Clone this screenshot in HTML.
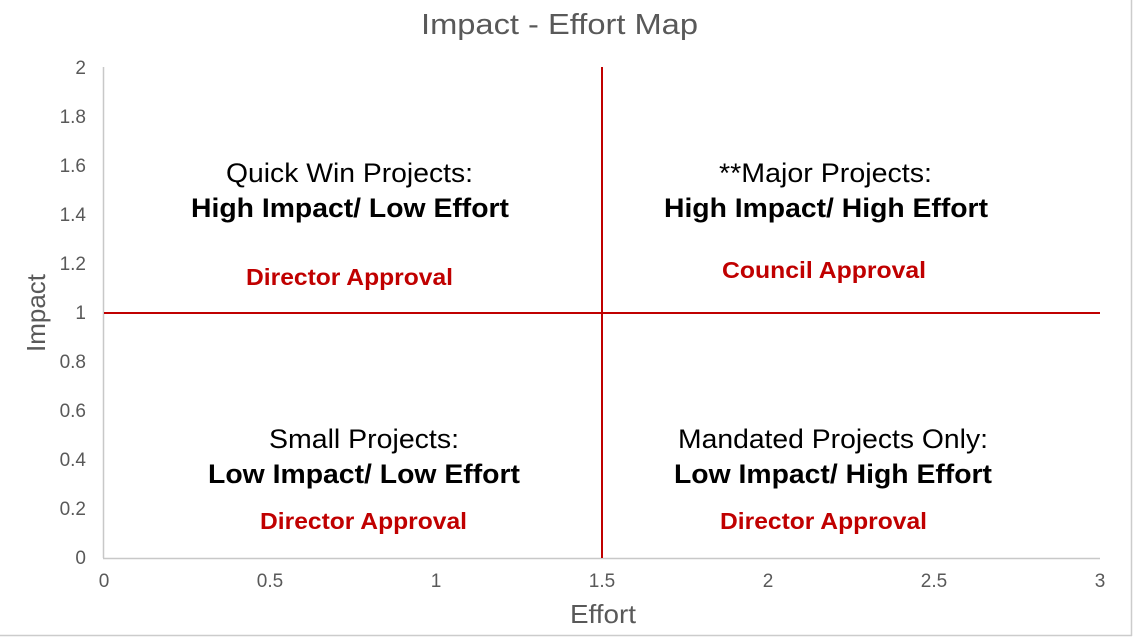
<!DOCTYPE html>
<html><head><style>body{margin:0;background:#fff}svg{display:block}</style></head><body>
<svg width="1135" height="637" xmlns="http://www.w3.org/2000/svg" font-family="Liberation Sans, Arial, sans-serif">
<rect width="1135" height="637" fill="#fff"/>
<line x1="1131.5" y1="0" x2="1131.5" y2="636" stroke="#ccc" stroke-width="1.5"/>
<line x1="0" y1="635.5" x2="1132" y2="635.5" stroke="#ccc" stroke-width="1.5"/>
<text x="421" y="34" font-size="29" fill="#595959" textLength="277" lengthAdjust="spacingAndGlyphs">Impact - Effort Map</text>
<line x1="103.5" y1="67" x2="103.5" y2="558" stroke="#c8c8c8" stroke-width="1.5"/>
<line x1="103" y1="558.5" x2="1100" y2="558.5" stroke="#c8c8c8" stroke-width="1.5"/>
<g font-size="19" fill="#595959" text-anchor="end">
<text x="86" y="74">2</text><text x="86" y="123">1.8</text><text x="86" y="172">1.6</text><text x="86" y="221">1.4</text><text x="86" y="270">1.2</text><text x="86" y="319">1</text><text x="86" y="368">0.8</text><text x="86" y="417">0.6</text><text x="86" y="466">0.4</text><text x="86" y="515">0.2</text><text x="86" y="564">0</text>
</g>
<g font-size="19" fill="#595959" text-anchor="middle">
<text x="104" y="587">0</text><text x="270" y="587">0.5</text><text x="436" y="587">1</text><text x="602" y="587">1.5</text><text x="768" y="587">2</text><text x="934" y="587">2.5</text><text x="1100" y="587">3</text>
</g>
<text x="570" y="623" font-size="26" fill="#595959" textLength="66" lengthAdjust="spacingAndGlyphs">Effort</text>
<text transform="translate(45,313) rotate(-90)" font-size="26" fill="#595959" text-anchor="middle">Impact</text>
<line x1="602" y1="67" x2="602" y2="558" stroke="#c00000" stroke-width="2"/>
<line x1="104" y1="313" x2="1100" y2="313" stroke="#c00000" stroke-width="2"/>
<g fill="#000" lengthAdjust="spacingAndGlyphs">
<text x="226" y="182" font-size="27" textLength="247" lengthAdjust="spacingAndGlyphs">Quick Win Projects:</text>
<text x="191" y="217" font-size="27" font-weight="bold" textLength="318" lengthAdjust="spacingAndGlyphs">High Impact/ Low Effort</text>
<text x="719" y="182" font-size="27" textLength="213" lengthAdjust="spacingAndGlyphs">**Major Projects:</text>
<text x="664" y="217" font-size="27" font-weight="bold" textLength="324" lengthAdjust="spacingAndGlyphs">High Impact/ High Effort</text>
<text x="269" y="448" font-size="27" textLength="190" lengthAdjust="spacingAndGlyphs">Small Projects:</text>
<text x="208" y="483" font-size="27" font-weight="bold" textLength="312" lengthAdjust="spacingAndGlyphs">Low Impact/ Low Effort</text>
<text x="678" y="448" font-size="27" textLength="310" lengthAdjust="spacingAndGlyphs">Mandated Projects Only:</text>
<text x="674" y="483" font-size="27" font-weight="bold" textLength="318" lengthAdjust="spacingAndGlyphs">Low Impact/ High Effort</text>
</g>
<g fill="#c00000" font-size="23" font-weight="bold">
<text x="246" y="285" textLength="207" lengthAdjust="spacingAndGlyphs">Director Approval</text>
<text x="722" y="278" textLength="204" lengthAdjust="spacingAndGlyphs">Council Approval</text>
<text x="260" y="529" textLength="207" lengthAdjust="spacingAndGlyphs">Director Approval</text>
<text x="720" y="529" textLength="207" lengthAdjust="spacingAndGlyphs">Director Approval</text>
</g>
</svg>
</body></html>
